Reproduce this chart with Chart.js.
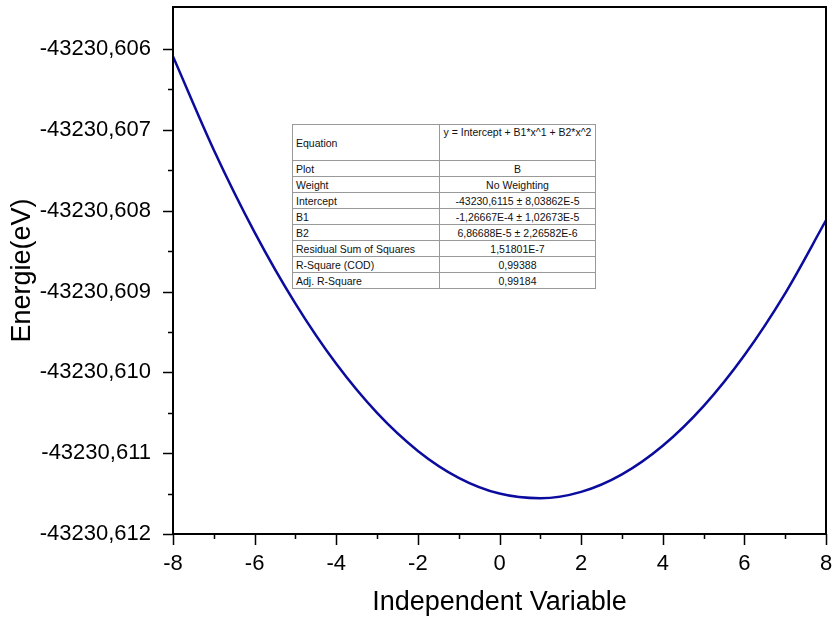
<!DOCTYPE html>
<html>
<head>
<meta charset="utf-8">
<script src="https://cdn.jsdelivr.net/npm/chart.js@4"></script>
<style>
  html, body { margin: 0; padding: 0; background: #fff; }
  #wrap { position: relative; width: 836px; height: 621px; }
  #fitTable {
    position: absolute; left: 292px; top: 124px; width: 304px;
    border-collapse: collapse; border: 1px solid #000;
    font-family: "Liberation Sans", Arial, sans-serif; font-size: 10.5px; color: #111;
    background: #fff;
  }
  #fitTable td { border: 1px solid #999; padding: 0 3px; height: 15px; line-height: 14px; white-space: nowrap; }
  #fitTable td:first-child { width: 140px; text-align: left; }
  #fitTable td:last-child { text-align: center; }
  #fitTable tr.eq td { height: 35px; }
  #fitTable tr.eq td:last-child { vertical-align: top; }
</style>
</head>
<body>
<div id="wrap">
  <canvas id="graficoEnergia" width="836" height="621"></canvas>
  <table id="fitTable"></table>
</div>
<script>
// valores
const xValores = [-8, -7, -6, -5, -4, -3, -2, -1, 0, 1, 2, 3, 4, 5, 6, 7, 8];
const energias = [-43230.606092, -43230.607249, -43230.608268, -43230.609150, -43230.609895,
  -43230.610502, -43230.610972, -43230.611305, -43230.611500, -43230.611558, -43230.611479,
  -43230.611262, -43230.610908, -43230.610417, -43230.609788, -43230.609022, -43230.608119];

const xTicksMaiores = [-8, -6, -4, -2, 0, 2, 4, 6, 8];
const xTicksMenores = [-7, -5, -3, -1, 1, 3, 5, 7];
const yTicksMaiores = [-43230.612, -43230.611, -43230.610, -43230.609, -43230.608, -43230.607, -43230.606];
const yTicksMenores = [-43230.6115, -43230.6105, -43230.6095, -43230.6085, -43230.6075, -43230.6065];

const linhasTabela = [
  ['Equation', 'y = Intercept + B1*x^1 + B2*x^2'],
  ['Plot', 'B'],
  ['Weight', 'No Weighting'],
  ['Intercept', '-43230,6115 ± 8,03862E-5'],
  ['B1', '-1,26667E-4 ± 1,02673E-5'],
  ['B2', '6,86688E-5 ± 2,26582E-6'],
  ['Residual Sum of Squares', '1,51801E-7'],
  ['R-Square (COD)', '0,99388'],
  ['Adj. R-Square', '0,99184']
];

const tabela = document.getElementById('fitTable');
linhasTabela.forEach((linha, i) => {
  const tr = document.createElement('tr');
  if (i === 0) tr.className = 'eq';
  linha.forEach(txt => {
    const td = document.createElement('td');
    td.textContent = txt;
    tr.appendChild(td);
  });
  tabela.appendChild(tr);
});

const ehMaior = (v, lista) => lista.some(m => Math.abs(m - v) < 1e-7);

// marcas de escala (maiores e menores) e moldura
const marcasPlugin = {
  id: 'marcas',
  afterDraw(chart) {
    const ctx = chart.ctx;
    const area = chart.chartArea;
    const sx = chart.scales.x, sy = chart.scales.y;
    ctx.save();
    ctx.strokeStyle = '#000';
    ctx.lineWidth = 2;
    ctx.strokeRect(area.left, area.top, area.right - area.left, area.bottom - area.top);
    ctx.lineWidth = 1.5;
    ctx.beginPath();
    sx.ticks.forEach(t => {
      const px = Math.round(sx.getPixelForValue(t.value)) + 0.5;
      const len = ehMaior(t.value, xTicksMaiores) ? 11 : 5;
      ctx.moveTo(px, area.bottom);
      ctx.lineTo(px, area.bottom + len);
    });
    sy.ticks.forEach(t => {
      const py = Math.round(sy.getPixelForValue(t.value)) + 0.5;
      const len = ehMaior(t.value, yTicksMaiores) ? 10 : 5;
      ctx.moveTo(area.left, py);
      ctx.lineTo(area.left - len, py);
    });
    ctx.stroke();
    ctx.restore();
  }
};

const fonte = 'Liberation Sans, Arial, sans-serif';

new Chart(document.getElementById('graficoEnergia'), {
  type: 'line',
  data: {
    datasets: [{
      label: 'B',
      data: xValores.map((x, i) => ({ x: x, y: energias[i] })),
      borderColor: '#0b0b9e',
      borderWidth: 2.5,
      pointRadius: 0,
      cubicInterpolationMode: 'monotone',
      fill: false
    }]
  },
  options: {
    responsive: false,
    animation: false,
    layout: { padding: { left: 0, top: 7, right: 10, bottom: 0 } },
    plugins: { legend: { display: false }, tooltip: { enabled: false } },
    scales: {
      x: {
        type: 'linear', min: -8, max: 8,
        afterBuildTicks: s => { s.ticks = xTicksMaiores.concat(xTicksMenores).sort((a, b) => a - b).map(v => ({ value: v })); },
        afterFit: s => { s.height = 87; s.paddingLeft = 0; s.paddingRight = 0; },
        grid: { display: false },
        border: { display: true, color: '#000', width: 2 },
        ticks: {
          color: '#000', padding: 9, maxRotation: 0, autoSkip: false,
          font: { family: fonte, size: 22 },
          callback: v => ehMaior(v, xTicksMaiores) ? String(v) : ''
        },
        title: { display: true, text: 'Independent Variable', color: '#000', font: { family: fonte, size: 27 }, padding: { top: 0, bottom: 2 } }
      },
      y: {
        type: 'linear', min: -43230.612, max: -43230.60548,
        afterBuildTicks: s => { s.ticks = yTicksMaiores.concat(yTicksMenores).sort((a, b) => a - b).map(v => ({ value: v })); },
        afterFit: s => { s.width = 173; s.paddingTop = 0; s.paddingBottom = 0; },
        grid: { display: false },
        border: { display: true, color: '#000', width: 2 },
        ticks: {
          color: '#000', padding: 14, autoSkip: false,
          font: { family: fonte, size: 22 },
          callback: v => ehMaior(v, yTicksMaiores) ? v.toFixed(3).replace('.', ',') : ''
        },
        title: { display: true, text: 'Energie(eV)', color: '#000', font: { family: fonte, size: 27 }, padding: { top: 6, bottom: 0 } }
      }
    }
  },
  plugins: [marcasPlugin]
});
</script>
</body>
</html>
